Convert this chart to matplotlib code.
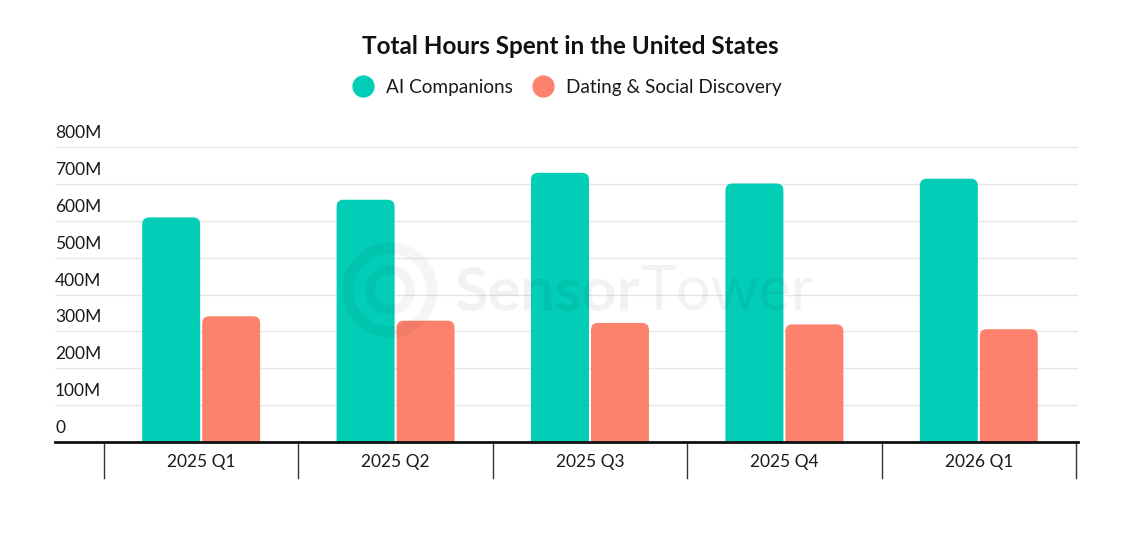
import matplotlib.pyplot as plt
import numpy as np
from matplotlib.patches import FancyBboxPatch, Circle
from matplotlib.lines import Line2D

plt.rcParams['font.family'] = ['Lato', 'DejaVu Sans']

quarters = ['2025 Q1', '2025 Q2', '2025 Q3', '2025 Q4', '2026 Q1']
ai_companions = [609, 657, 730, 701, 714]
dating_social = [341, 329, 323, 319, 306]
y_ticks = [0, 100, 200, 300, 400, 500, 600, 700, 800]
y_labels = ['0', '100M', '200M', '300M', '400M', '500M', '600M', '700M', '800M']

teal = '#02CDB6'
coral = '#FD826E'

W, H = 1141, 538
fig = plt.figure(figsize=(W / 100, H / 100), dpi=100)

# axes placed in pixel terms: x 55..1078, y 147..442 (from top)
ax = fig.add_axes([55 / W, (H - 442) / H, (1078 - 55) / W, (442 - 147) / H])
x_left = -0.5 - 49 / 194.5
x_right = 4.5 + 2 / 194.5
ax.set_xlim(x_left, x_right)
ax.set_ylim(0, 800)

x = np.arange(len(quarters))
bw = 58 / 194.5
off = 30 / 194.5

# grid lines
for t in y_ticks[1:]:
    ax.axhline(t, color='#e6e6e6', lw=1, zorder=0)

# rounded-top bars
px_x = 1 / 194.5
px_y = 800 / 295
r = 7 * px_x
aspect = px_y / px_x
for vals, dx, col in [(ai_companions, -off, teal), (dating_social, off, coral)]:
    for xi, v in zip(x, vals):
        ry = r * aspect
        p = FancyBboxPatch((xi + dx - bw / 2, -ry), bw, v + ry,
                           boxstyle=f"round,pad=0,rounding_size={r}",
                           mutation_aspect=aspect, fc=col, ec='none', zorder=2)
        ax.add_patch(p)

# y labels sit above the grid lines, left aligned
for t, lab in zip(y_ticks, y_labels):
    ax.text(x_left, t + 14 * px_y, lab, ha='left', va='center', fontsize=12.5,
            color='#1a1a1a', clip_on=False)

ax.set_xticks([])
ax.set_yticks([])
for s in ['top', 'right', 'left']:
    ax.spines[s].set_visible(False)
ax.spines['bottom'].set_linewidth(2)
ax.spines['bottom'].set_color('#111111')
ax.spines['bottom'].set_zorder(3)

# category separators and labels under the axis
trans = ax.get_xaxis_transform()
for b in np.arange(len(quarters) + 1) - 0.5:
    ax.plot([b, b], [0, -36 / 295], color='#333333', lw=1, transform=trans, clip_on=False)
for xi, q in zip(x, quarters):
    ax.text(xi, -20 / 295, q, transform=trans, ha='center', va='center',
            fontsize=12.5, color='#1a1a1a')

# watermark
fig.add_artist(Circle((3.90, (H - 290) / 100), 0.42, transform=fig.dpi_scale_trans,
                      fill=False, ec='black', lw=8, alpha=0.04))
fig.add_artist(Circle((3.90, (H - 290) / 100), 0.2, transform=fig.dpi_scale_trans,
                      fill=False, ec='black', lw=7, alpha=0.04))
fig.text(455 / W, (H - 293) / H, 'Sensor', fontsize=44, fontweight='bold',
         color='black', alpha=0.05, va='center', ha='left')
fig.text(640 / W, (H - 293) / H, 'Tower', fontsize=44,
         color='black', alpha=0.05, va='center', ha='left')

# title and legend
fig.text(570 / W, (H - 46) / H, 'Total Hours Spent in the United States',
         ha='center', va='center', fontsize=17.5, fontweight='bold', color='#111111')
handles = [Line2D([], [], marker='o', ls='none', markersize=15, color=teal),
           Line2D([], [], marker='o', ls='none', markersize=15, color=coral)]
fig.legend(handles, ['AI Companions', 'Dating & Social Discovery'], loc='center',
           bbox_to_anchor=(563 / W, (H - 87) / H), ncol=2, frameon=False,
           fontsize=13.7, handletextpad=0.2, columnspacing=0.6, labelcolor='#1a1a1a')

fig.savefig('out.png', dpi=100, facecolor='white')
